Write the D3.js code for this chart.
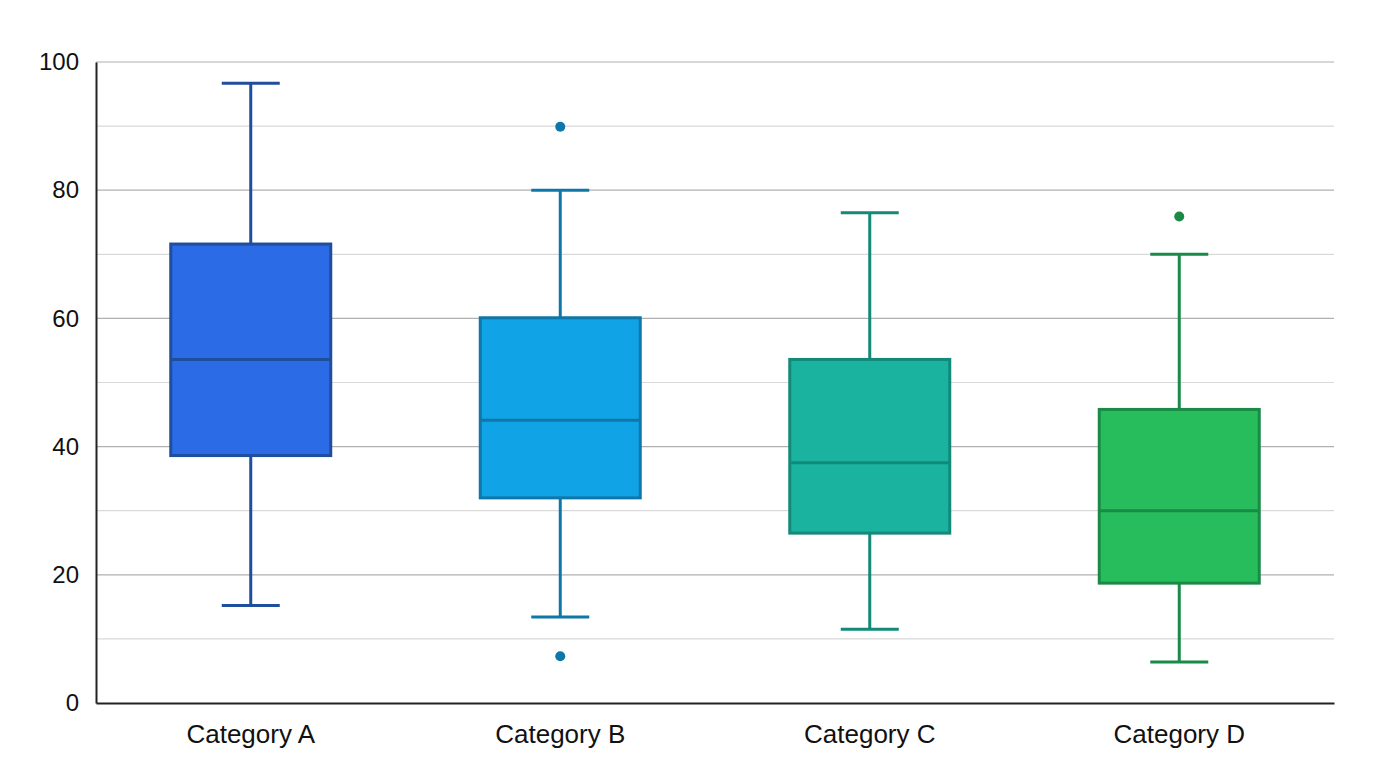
<!DOCTYPE html>
<html><head><meta charset="utf-8">
<script src="https://cdn.jsdelivr.net/npm/d3@7"></script>
<style>body{margin:0;background:#fff;} svg{display:block;font-family:"Liberation Sans",Arial,sans-serif;}</style>
</head><body>
<svg id="chart" width="1376" height="768"></svg>
<script>
const categories = ["Category A","Category B","Category C","Category D"];
const mins    = [15.2, 13.4, 11.5, 6.4];
const q1s     = [38.6, 32.0, 26.5, 18.7];
const medians = [53.6, 44.1, 37.5, 30.0];
const q3s     = [71.6, 60.1, 53.6, 45.8];
const maxs    = [96.7, 80.0, 76.5, 70.0];
const outliers = [[], [89.9, 7.3], [], [75.9]];
const fills   = ["#2c6be6","#10a3e6","#1ab39f","#27bd5c"];
const strokes = ["#1f4e9c","#0f77a8","#13897a","#1a8a47"];
const yTicks  = [0,20,40,60,80,100];
const yMinor  = [10,30,50,70,90];

const svg = d3.select("#chart");
const m = {l:96, r:1334, t:62, b:703};
const x = d3.scaleBand().domain(categories).range([m.l, m.r]);
const y = d3.scaleLinear().domain([0,100]).range([m.b, m.t]);

// gridlines
svg.append("g").selectAll("line").data(yMinor).join("line")
  .attr("x1", m.l).attr("x2", m.r).attr("y1", d=>y(d)).attr("y2", d=>y(d))
  .attr("stroke", "#d9d9d9").attr("stroke-width", 1.2);
svg.append("g").selectAll("line").data(yTicks.filter(d=>d>0)).join("line")
  .attr("x1", m.l).attr("x2", m.r).attr("y1", d=>y(d)).attr("y2", d=>y(d))
  .attr("stroke", "#b0b0b0").attr("stroke-width", 1.2);

const data = categories.map((c,i)=>({c, min:mins[i], q1:q1s[i], med:medians[i], q3:q3s[i], max:maxs[i], out:outliers[i], fill:fills[i], stroke:strokes[i]}));
const boxW = 160, capW = 58;

const g = svg.append("g").selectAll("g").data(data).join("g")
  .attr("transform", d=>`translate(${x(d.c)+x.bandwidth()/2},0)`);
// whiskers
g.append("line").attr("x1",0).attr("x2",0).attr("y1",d=>y(d.max)).attr("y2",d=>y(d.q3))
  .attr("stroke",d=>d.stroke).attr("stroke-width",3);
g.append("line").attr("x1",0).attr("x2",0).attr("y1",d=>y(d.q1)).attr("y2",d=>y(d.min))
  .attr("stroke",d=>d.stroke).attr("stroke-width",3);
g.append("line").attr("x1",-capW/2).attr("x2",capW/2).attr("y1",d=>y(d.max)).attr("y2",d=>y(d.max))
  .attr("stroke",d=>d.stroke).attr("stroke-width",3);
g.append("line").attr("x1",-capW/2).attr("x2",capW/2).attr("y1",d=>y(d.min)).attr("y2",d=>y(d.min))
  .attr("stroke",d=>d.stroke).attr("stroke-width",3);
// box
g.append("rect").attr("x",-boxW/2).attr("width",boxW)
  .attr("y",d=>y(d.q3)).attr("height",d=>y(d.q1)-y(d.q3))
  .attr("fill",d=>d.fill).attr("stroke",d=>d.stroke).attr("stroke-width",3);
g.append("line").attr("x1",-boxW/2).attr("x2",boxW/2).attr("y1",d=>y(d.med)).attr("y2",d=>y(d.med))
  .attr("stroke",d=>d.stroke).attr("stroke-width",3);
// outliers
g.selectAll("circle").data(d=>d.out.map(v=>({v, s:d.stroke}))).join("circle")
  .attr("cx",0).attr("cy",d=>y(d.v)).attr("r",5).attr("fill",d=>d.s);

// axes
const ya = svg.append("g").attr("transform",`translate(${m.l},0)`)
  .call(d3.axisLeft(y).tickValues(yTicks).tickSize(0).tickPadding(17));
ya.select(".domain").attr("stroke","#222").attr("stroke-width",2);
ya.selectAll("text").attr("font-size",24).attr("fill","#111").attr("font-family","Liberation Sans, Arial, sans-serif");
const xa = svg.append("g").attr("transform",`translate(0,${m.b})`)
  .call(d3.axisBottom(x).tickSize(0).tickPadding(22));
xa.select(".domain").attr("stroke","#222").attr("stroke-width",2);
xa.selectAll("text").attr("font-size",26).attr("fill","#111").attr("font-family","Liberation Sans, Arial, sans-serif");
</script>
</body></html>
